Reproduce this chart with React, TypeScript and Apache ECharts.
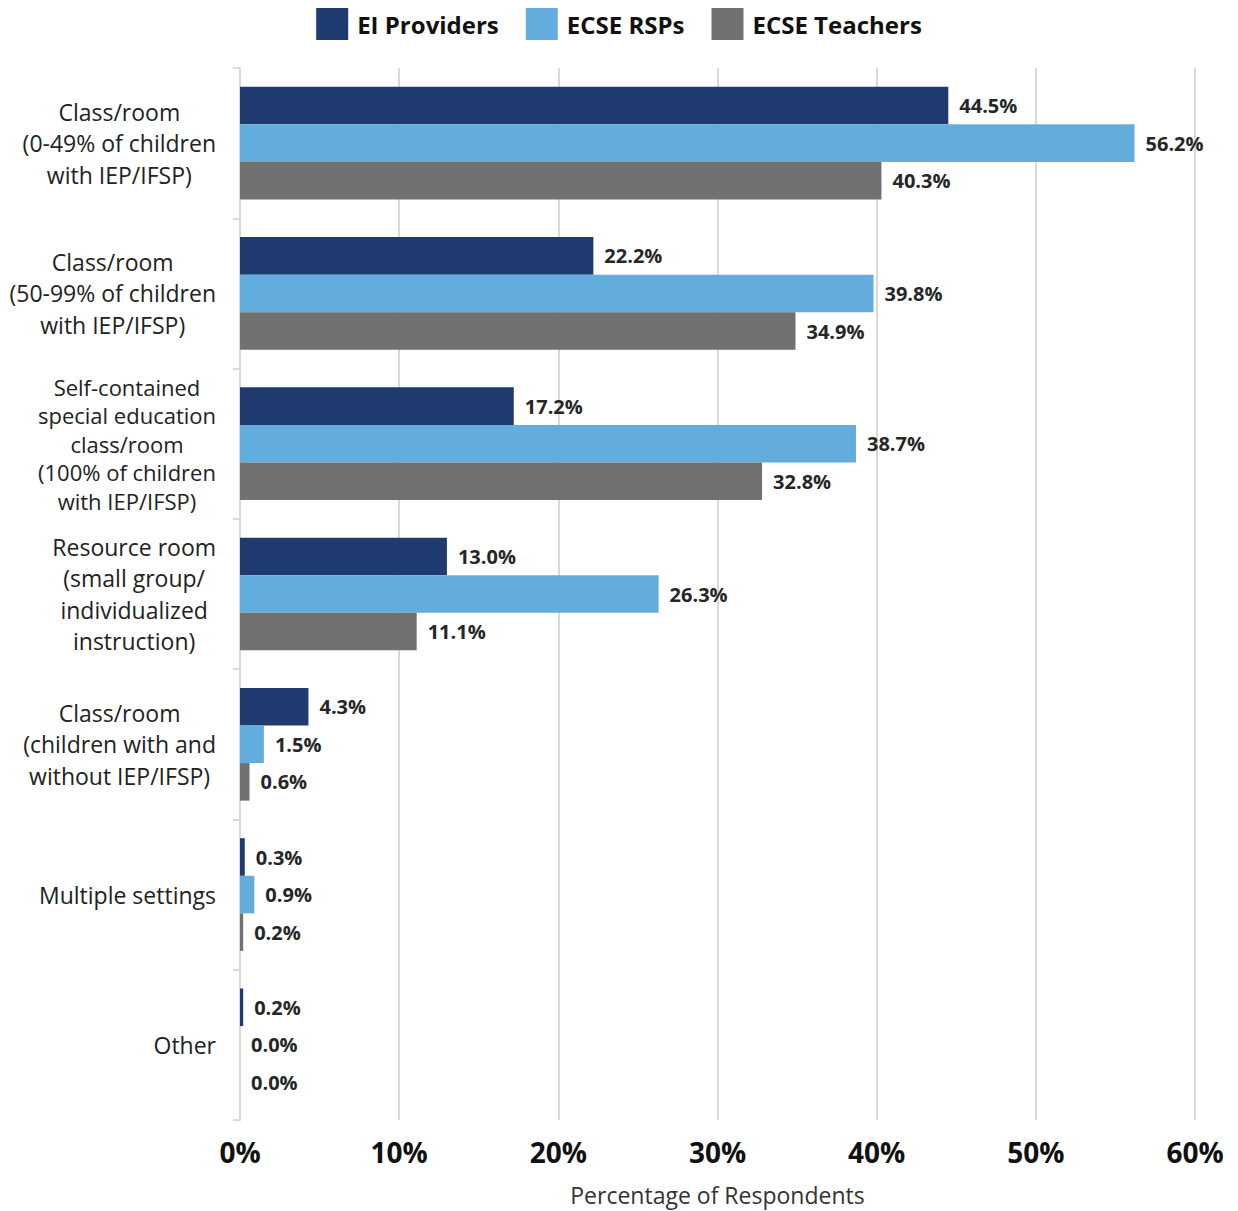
import React, { useEffect, useRef } from "react";
import * as echarts from "echarts";

const categories = [
  "Class/room\n(0-49% of children\nwith IEP/IFSP)",
  "Class/room\n(50-99% of children\nwith IEP/IFSP)",
  "Self-contained\nspecial education\nclass/room\n(100% of children\nwith IEP/IFSP)",
  "Resource room\n(small group/\nindividualized\ninstruction)",
  "Class/room\n(children with and\nwithout IEP/IFSP)",
  "Multiple settings",
  "Other",
];
const eiProviders = [44.5, 22.2, 17.2, 13.0, 4.3, 0.3, 0.2];
const ecseRSPs = [56.2, 39.8, 38.7, 26.3, 1.5, 0.9, 0.0];
const ecseTeachers = [40.3, 34.9, 32.8, 11.1, 0.6, 0.2, 0.0];
const xTicks = [0, 10, 20, 30, 40, 50, 60];

const FONT = "'Open Sans', 'Noto Sans', sans-serif";

export default function App() {
  const ref = useRef<HTMLDivElement>(null);
  useEffect(() => {
    if (!ref.current) return;
    const chart = echarts.init(ref.current, null, { renderer: "svg" });
    const mkSeries = (name: string, data: number[], color: string) => ({
      name,
      type: "bar",
      data,
      itemStyle: { color },
      barGap: "0%",
      barCategoryGap: "25%",
      label: {
        show: true,
        position: "right",
        distance: 11,
        formatter: (p: any) => Number(p.value).toFixed(1) + "%",
        fontFamily: FONT,
        fontWeight: "bold",
        fontSize: 20,
        color: "#262626",
      },
    });
    const catStyle = { align: "center", fontFamily: FONT, color: "#222" };
    chart.setOption({
      animation: false,
      textStyle: { fontFamily: FONT },
      legend: {
        top: 3,
        left: "center",
        itemWidth: 32,
        itemHeight: 32,
        itemGap: 27,
        icon: "rect",
        textStyle: { fontFamily: FONT, fontWeight: "bold", fontSize: 24, color: "#111", padding: [0, 0, 0, 4] },
        data: ["EI Providers", "ECSE RSPs", "ECSE Teachers"],
      },
      grid: {
        left: 240,
        right: 43,
        top: 68,
        bottom: 91,
        containLabel: false,
        outerBoundsMode: "none",
      },
      xAxis: {
        type: "value",
        min: xTicks[0],
        max: xTicks[xTicks.length - 1],
        interval: 10,
        name: "Percentage of Respondents",
        nameLocation: "middle",
        nameGap: 63,
        nameTextStyle: { fontFamily: FONT, fontSize: 23, color: "#333" },
        axisLine: { show: false },
        axisTick: { show: false },
        axisLabel: {
          formatter: (v: number) => v + "%",
          fontFamily: FONT,
          fontWeight: "bold",
          fontSize: 28,
          color: "#111",
          margin: 18,
        },
        splitLine: { show: true, lineStyle: { color: "#d9d9d9", width: 2 } },
      },
      yAxis: {
        type: "category",
        inverse: true,
        data: categories,
        axisLine: { show: true, lineStyle: { color: "#d9d9d9", width: 2 } },
        axisTick: { show: true, length: 7, lineStyle: { color: "#d9d9d9", width: 2 } },
        axisLabel: {
          margin: 24,
          formatter: (v: string) => {
            const lines = v.split("\n");
            const key = lines.length > 4 ? "d" : "c";
            return lines.map((l) => `{${key}|${l}}`).join("\n");
          },
          rich: {
            c: { ...catStyle, fontSize: 23, lineHeight: 31.5 },
            d: { ...catStyle, fontSize: 22, lineHeight: 28.5 },
          },
        },
      },
      series: [
        mkSeries("EI Providers", eiProviders, "#1F3A6F"),
        mkSeries("ECSE RSPs", ecseRSPs, "#63ADDE"),
        mkSeries("ECSE Teachers", ecseTeachers, "#717171"),
      ],
    });
    return () => chart.dispose();
  }, []);
  return (
    <div
      ref={ref}
      style={{ position: "absolute", left: 0, top: 0, width: 1238, height: 1211 }}
    />
  );
}
